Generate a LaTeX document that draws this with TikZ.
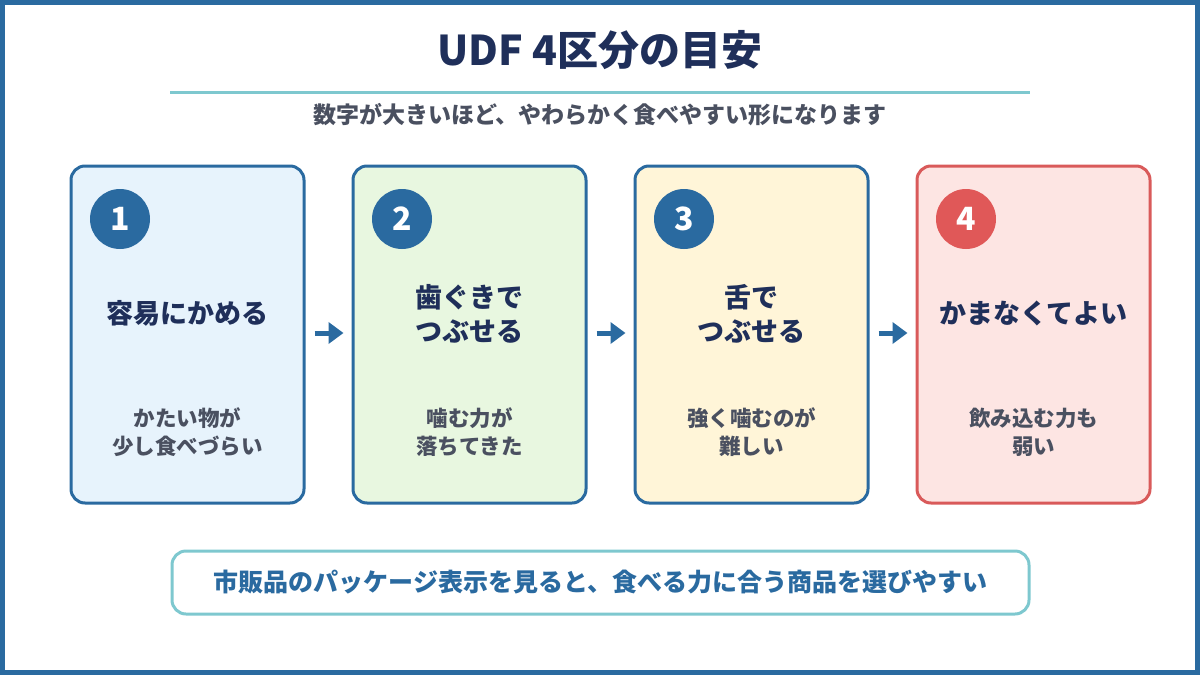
\documentclass[tikz,border=0pt]{standalone}
\usepackage{fontspec}
\setmainfont{Noto Sans CJK JP}
\usetikzlibrary{arrows.meta,positioning}
\definecolor{frameblue}{HTML}{2A6AA0}
\definecolor{navy}{HTML}{1F2F5A}
\definecolor{teal}{HTML}{7EC8CF}
\definecolor{graytxt}{HTML}{4A5060}
\definecolor{fillA}{HTML}{E7F3FC}
\definecolor{fillB}{HTML}{E8F7E0}
\definecolor{fillC}{HTML}{FFF5D8}
\definecolor{fillD}{HTML}{FDE5E3}
\definecolor{redc}{HTML}{D95A5A}
\definecolor{redn}{HTML}{E05858}
\tikzset{
  card/.style={draw=frameblue, line width=3pt, rounded corners=14pt, minimum width=233pt, minimum height=337pt, inner sep=0pt},
  numc/.style={circle, fill=frameblue, minimum size=60pt, inner sep=0pt, text=white, font=\bfseries\fontsize{32}{32}\selectfont},
  mainlbl/.style={text=navy, font=\bfseries\fontsize{27}{34}\selectfont, align=center},
  sublbl/.style={text=graytxt, font=\bfseries\fontsize{21.5}{28}\selectfont, align=center},
  flow/.style={-{Triangle[length=15pt,width=21pt]}, line width=5pt, draw=frameblue, shorten <=9pt, shorten >=8pt}
}
\begin{document}
\begin{tikzpicture}[x=1pt,y=-1pt]
\useasboundingbox (0,0) rectangle (1200,675);
\draw[frameblue, line width=5pt] (2.5,2.5) rectangle (1197.5,672.5);
\node[text=navy, font=\bfseries\fontsize{41}{41}\selectfont] (title) at (600,50) {UDF 4区分の目安};
\coordinate (la) at (170,92);
\coordinate (lb) at (1030,92);
\draw[teal, line width=3pt] (la) -- (lb);
\node[text=graytxt, font=\bfseries\fontsize{23}{23}\selectfont] (sub) at (600,115) {数字が大きいほど、やわらかく食べやすい形になります};

\node[card, fill=fillA] (c1) at (187.5,334.5) {};
\node[card, fill=fillB] (c2) at (469.5,334.5) {};
\node[card, fill=fillC] (c3) at (751.5,334.5) {};
\node[card, fill=fillD, draw=redc] (c4) at (1033.5,334.5) {};

\node[numc] (n1) at (120,219) {1};
\node[numc] (n2) at (402,219) {2};
\node[numc] (n3) at (684,219) {3};
\node[numc, fill=redn] (n4) at (966,219) {4};

\node[mainlbl] (m1) at (187.5,313) {容易にかめる};
\node[mainlbl] (m2) at (469.5,314) {歯ぐきで\\つぶせる};
\node[mainlbl] (m3) at (751.5,314) {舌で\\つぶせる};
\node[mainlbl] (m4) at (1033.5,313) {かまなくてよい};

\node[sublbl] (s1) at (187.5,432) {かたい物が\\少し食べづらい};
\node[sublbl] (s2) at (469.5,432) {噛む力が\\落ちてきた};
\node[sublbl] (s3) at (751.5,432) {強く噛むのが\\難しい};
\node[sublbl] (s4) at (1033.5,432) {飲み込む力も\\弱い};

\draw[flow] (c1.east |- 0,333) -- (c2.west |- 0,333);
\draw[flow] (c2.east |- 0,333) -- (c3.west |- 0,333);
\draw[flow] (c3.east |- 0,333) -- (c4.west |- 0,333);

\node[draw=teal, line width=3pt, fill=white, rounded corners=14pt, minimum width=857pt, minimum height=63pt, text=frameblue, font=\bfseries\fontsize{25}{25}\selectfont] (bottom) at (600.5,582.5) {市販品のパッケージ表示を見ると、食べる力に合う商品を選びやすい};
\end{tikzpicture}
\end{document}
